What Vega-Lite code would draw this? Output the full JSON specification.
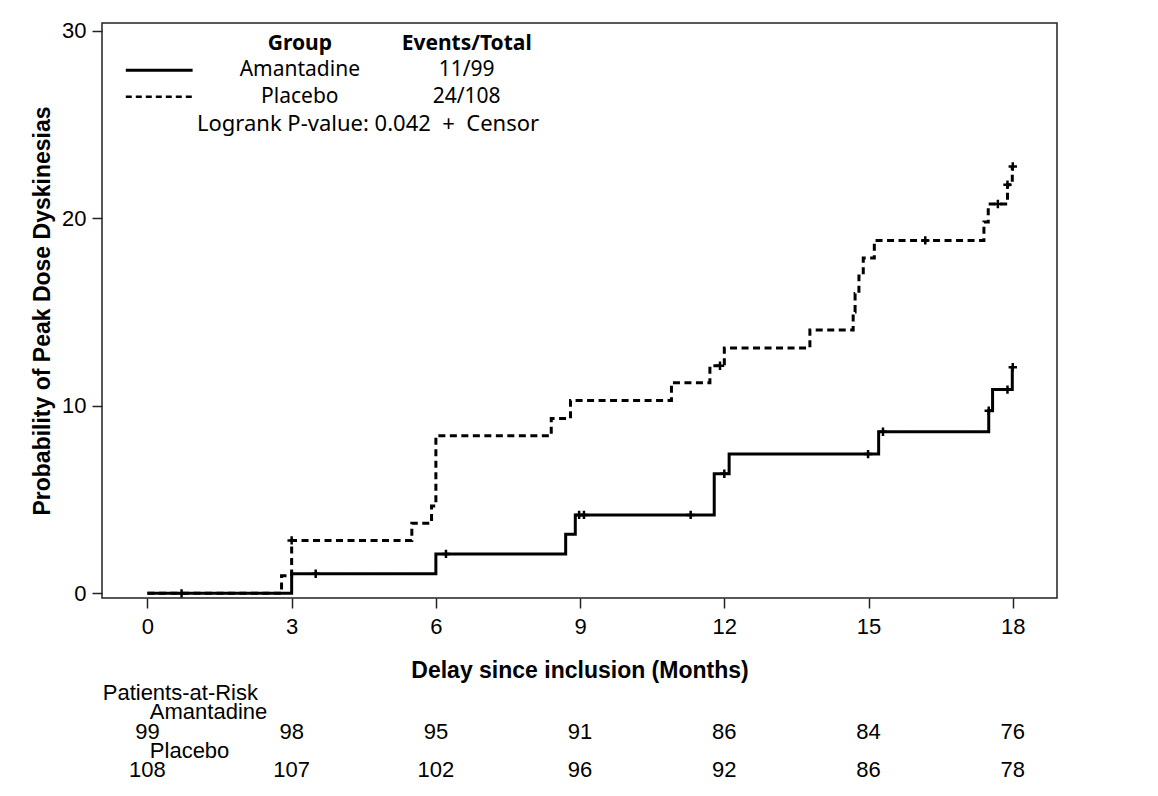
{
  "$schema": "https://vega.github.io/schema/vega-lite/v6.json",
  "width": 955,
  "height": 575,
  "autosize": {"type": "none"},
  "padding": {"left": 102, "top": 23, "right": 101, "bottom": 198},
  "background": "white",
  "config": {
    "font": "Liberation Sans",
    "view": {"stroke": "#222222", "strokeWidth": 1.5},
    "axis": {
      "domain": false, "grid": false, "tickColor": "#222222", "tickSize": 10, "tickWidth": 1.5,
      "labelFont": "Liberation Sans", "labelFontSize": 22, "labelColor": "black",
      "titleFont": "Liberation Sans", "titleFontSize": 23, "titleFontWeight": "bold", "titleColor": "black"
    }
  },
  "datasets": {
    "km": [
      {"group": "Amantadine", "month": 0, "pct": 0},
      {"group": "Amantadine", "month": 3, "pct": 1.04},
      {"group": "Amantadine", "month": 6, "pct": 2.1},
      {"group": "Amantadine", "month": 8.7, "pct": 3.15},
      {"group": "Amantadine", "month": 8.9, "pct": 4.18},
      {"group": "Amantadine", "month": 11.79, "pct": 6.37},
      {"group": "Amantadine", "month": 12.1, "pct": 7.42},
      {"group": "Amantadine", "month": 15.21, "pct": 8.61},
      {"group": "Amantadine", "month": 17.5, "pct": 9.73},
      {"group": "Amantadine", "month": 17.58, "pct": 10.86},
      {"group": "Amantadine", "month": 17.99, "pct": 12.05},
      {"group": "Placebo", "month": 0, "pct": 0},
      {"group": "Placebo", "month": 2.79, "pct": 0.93},
      {"group": "Placebo", "month": 3.0, "pct": 2.82},
      {"group": "Placebo", "month": 5.5, "pct": 3.74},
      {"group": "Placebo", "month": 5.91, "pct": 4.65},
      {"group": "Placebo", "month": 6.0, "pct": 8.4},
      {"group": "Placebo", "month": 8.4, "pct": 9.32},
      {"group": "Placebo", "month": 8.8, "pct": 10.28},
      {"group": "Placebo", "month": 10.9, "pct": 11.22},
      {"group": "Placebo", "month": 11.7, "pct": 12.13},
      {"group": "Placebo", "month": 12.0, "pct": 13.08},
      {"group": "Placebo", "month": 13.78, "pct": 14.03},
      {"group": "Placebo", "month": 14.68, "pct": 15.0},
      {"group": "Placebo", "month": 14.72, "pct": 15.98},
      {"group": "Placebo", "month": 14.8, "pct": 16.92},
      {"group": "Placebo", "month": 14.89, "pct": 17.87},
      {"group": "Placebo", "month": 15.12, "pct": 18.81},
      {"group": "Placebo", "month": 17.4, "pct": 19.79},
      {"group": "Placebo", "month": 17.49, "pct": 20.75},
      {"group": "Placebo", "month": 17.89, "pct": 21.78},
      {"group": "Placebo", "month": 17.99, "pct": 22.75}
    ],
    "censor": [
      {"group": "Amantadine", "month": 0.71, "pct": 0},
      {"group": "Amantadine", "month": 3.5, "pct": 1.04},
      {"group": "Amantadine", "month": 6.21, "pct": 2.1},
      {"group": "Amantadine", "month": 8.98, "pct": 4.18},
      {"group": "Amantadine", "month": 9.08, "pct": 4.18},
      {"group": "Amantadine", "month": 11.3, "pct": 4.18},
      {"group": "Amantadine", "month": 12.0, "pct": 6.37},
      {"group": "Amantadine", "month": 14.99, "pct": 7.42},
      {"group": "Amantadine", "month": 15.3, "pct": 8.61},
      {"group": "Amantadine", "month": 17.5, "pct": 9.73},
      {"group": "Amantadine", "month": 17.89, "pct": 10.86},
      {"group": "Amantadine", "month": 18.0, "pct": 12.05},
      {"group": "Placebo", "month": 3.0, "pct": 2.82},
      {"group": "Placebo", "month": 11.91, "pct": 12.13},
      {"group": "Placebo", "month": 16.18, "pct": 18.81},
      {"group": "Placebo", "month": 17.69, "pct": 20.75},
      {"group": "Placebo", "month": 17.89, "pct": 21.78},
      {"group": "Placebo", "month": 18.0, "pct": 22.75}
    ],
    "summary": [
      {"group": "Amantadine", "events": "11/99"},
      {"group": "Placebo", "events": "24/108"}
    ],
    "risk": [
      {"group": "Amantadine", "month": 0, "n": 99},
      {"group": "Amantadine", "month": 3, "n": 98},
      {"group": "Amantadine", "month": 6, "n": 95},
      {"group": "Amantadine", "month": 9, "n": 91},
      {"group": "Amantadine", "month": 12, "n": 86},
      {"group": "Amantadine", "month": 15, "n": 84},
      {"group": "Amantadine", "month": 18, "n": 76},
      {"group": "Placebo", "month": 0, "n": 108},
      {"group": "Placebo", "month": 3, "n": 107},
      {"group": "Placebo", "month": 6, "n": 102},
      {"group": "Placebo", "month": 9, "n": 96},
      {"group": "Placebo", "month": 12, "n": 92},
      {"group": "Placebo", "month": 15, "n": 86},
      {"group": "Placebo", "month": 18, "n": 78}
    ],
    "single": [{}]
  },
  "layer": [
    {
      "data": {"name": "km"},
      "mark": {"type": "line", "interpolate": "step-after", "strokeWidth": 3, "color": "black"},
      "encoding": {
        "x": {
          "field": "month", "type": "quantitative",
          "scale": {"domain": [-0.945, 18.92], "nice": false, "zero": false},
          "axis": {"values": [0, 3, 6, 9, 12, 15, 18], "labelPadding": 8, "titlePadding": 22, "title": "Delay since inclusion (Months)"}
        },
        "y": {
          "field": "pct", "type": "quantitative",
          "scale": {"domain": [-0.25, 30.4], "nice": false, "zero": false},
          "axis": {"values": [0, 10, 20, 30], "labelPadding": 6, "titlePadding": 7, "title": "Probability of Peak Dose Dyskinesias"}
        },
        "strokeDash": {
          "field": "group", "type": "nominal",
          "scale": {"domain": ["Amantadine", "Placebo"], "range": [[1, 0], [7, 4.5]]},
          "legend": null
        }
      }
    },
    {
      "data": {"name": "censor"},
      "mark": {"type": "point", "shape": "M-1,0L1,0M0,-1L0,1", "size": 70, "stroke": "black", "strokeWidth": 2.5, "filled": false, "opacity": 1},
      "encoding": {
        "x": {"field": "month", "type": "quantitative"},
        "y": {"field": "pct", "type": "quantitative"}
      }
    },
    {
      "data": {"name": "single"},
      "mark": {"type": "text", "font": "Noto Sans", "fontSize": 21, "fontWeight": "bold", "text": "Group", "baseline": "middle"},
      "encoding": {"x": {"datum": 3.17, "type": "quantitative"}, "y": {"datum": 29.29, "type": "quantitative"}}
    },
    {
      "data": {"name": "single"},
      "mark": {"type": "text", "font": "Noto Sans", "fontSize": 21, "fontWeight": "bold", "text": "Events/Total", "baseline": "middle"},
      "encoding": {"x": {"datum": 6.64, "type": "quantitative"}, "y": {"datum": 29.29, "type": "quantitative"}}
    },
    {
      "data": {"name": "single"},
      "mark": {"type": "rule", "strokeWidth": 3, "color": "black"},
      "encoding": {
        "x": {"datum": -0.45, "type": "quantitative"}, "x2": {"datum": 0.94},
        "y": {"datum": 27.88, "type": "quantitative"}
      }
    },
    {
      "data": {"name": "single"},
      "mark": {"type": "rule", "strokeWidth": 2.5, "color": "black", "strokeDash": [6, 4]},
      "encoding": {
        "x": {"datum": -0.45, "type": "quantitative"}, "x2": {"datum": 0.94},
        "y": {"datum": 26.47, "type": "quantitative"}
      }
    },
    {
      "data": {"name": "summary"},
      "transform": [{"filter": "datum.group === 'Amantadine'"}],
      "encoding": {"y": {"datum": 27.88, "type": "quantitative"}},
      "layer": [
        {
          "mark": {"type": "text", "font": "Noto Sans", "fontSize": 21, "baseline": "middle"},
          "encoding": {"x": {"datum": 3.17, "type": "quantitative"}, "text": {"field": "group"}}
        },
        {
          "mark": {"type": "text", "font": "Noto Sans", "fontSize": 21, "baseline": "middle"},
          "encoding": {"x": {"datum": 6.64, "type": "quantitative"}, "text": {"field": "events"}}
        }
      ]
    },
    {
      "data": {"name": "summary"},
      "transform": [{"filter": "datum.group === 'Placebo'"}],
      "encoding": {"y": {"datum": 26.47, "type": "quantitative"}},
      "layer": [
        {
          "mark": {"type": "text", "font": "Noto Sans", "fontSize": 21, "baseline": "middle"},
          "encoding": {"x": {"datum": 3.17, "type": "quantitative"}, "text": {"field": "group"}}
        },
        {
          "mark": {"type": "text", "font": "Noto Sans", "fontSize": 21, "baseline": "middle"},
          "encoding": {"x": {"datum": 6.64, "type": "quantitative"}, "text": {"field": "events"}}
        }
      ]
    },
    {
      "data": {"name": "single"},
      "mark": {"type": "text", "font": "Noto Sans", "fontSize": 22, "align": "left", "baseline": "middle", "text": "Logrank P-value: 0.042\u00a0\u00a0+\u00a0\u00a0Censor"},
      "encoding": {"x": {"datum": 1.03, "type": "quantitative"}, "y": {"datum": 25.03, "type": "quantitative"}}
    },
    {
      "data": {"name": "single"},
      "mark": {"type": "text", "fontSize": 22, "align": "left", "baseline": "middle", "text": "Patients-at-Risk"},
      "encoding": {"x": {"datum": -0.93, "type": "quantitative"}, "y": {"datum": -5.3, "type": "quantitative"}}
    },
    {
      "data": {"name": "single"},
      "mark": {"type": "text", "fontSize": 22, "align": "left", "baseline": "middle", "text": "Amantadine"},
      "encoding": {"x": {"datum": 0.05, "type": "quantitative"}, "y": {"datum": -6.32, "type": "quantitative"}}
    },
    {
      "data": {"name": "single"},
      "mark": {"type": "text", "fontSize": 22, "align": "left", "baseline": "middle", "text": "Placebo"},
      "encoding": {"x": {"datum": 0.05, "type": "quantitative"}, "y": {"datum": -8.4, "type": "quantitative"}}
    },
    {
      "data": {"name": "risk"},
      "transform": [{"filter": "datum.group === 'Amantadine'"}],
      "mark": {"type": "text", "fontSize": 22, "baseline": "middle"},
      "encoding": {
        "x": {"field": "month", "type": "quantitative"},
        "y": {"datum": -7.38, "type": "quantitative"},
        "text": {"field": "n"}
      }
    },
    {
      "data": {"name": "risk"},
      "transform": [{"filter": "datum.group === 'Placebo'"}],
      "mark": {"type": "text", "fontSize": 22, "baseline": "middle"},
      "encoding": {
        "x": {"field": "month", "type": "quantitative"},
        "y": {"datum": -9.41, "type": "quantitative"},
        "text": {"field": "n"}
      }
    }
  ]
}
